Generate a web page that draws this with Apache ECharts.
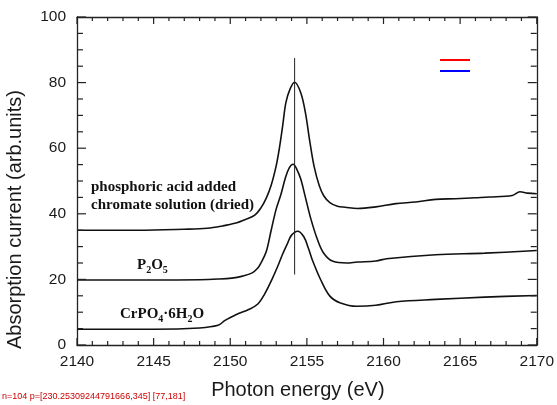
<!DOCTYPE html>
<html>
<head>
<meta charset="utf-8">
<script src="https://cdn.jsdelivr.net/npm/echarts@6/dist/echarts.min.js"></script>
<style>html,body{margin:0;padding:0;background:#fff;}#c{width:557px;height:405px;}</style>
</head>
<body>
<div id="c"></div>
<script>
// Photon energy (eV) / absorption current (arb. units)
const energyAcid = [2140, 2144, 2147, 2148.5, 2149.5, 2150.3, 2151, 2151.6, 2152, 2152.35, 2152.67, 2153, 2153.2, 2153.42, 2153.63, 2153.9, 2154.2, 2154.6, 2154.9, 2155.2, 2155.46, 2155.8, 2156.1, 2156.5, 2157.0, 2157.5, 2158.3, 2159.5, 2160.8, 2162.1, 2163.4, 2164.7, 2166, 2166.9, 2168.4, 2168.9, 2169.4, 2170];
const absAcid    = [35.0, 35.0, 35.3, 35.6, 36.3, 37.1, 38.3, 39.6, 41.8, 44.8, 48.7, 54.7, 59.8, 66.8, 73.9, 78.0, 80.1, 76.9, 70.9, 61.8, 54.7, 48.7, 45.5, 43.4, 42.3, 42.0, 41.6, 42.1, 43.1, 43.6, 44.4, 44.6, 44.9, 45.1, 45.6, 46.7, 46.3, 46.1];

const energyP2O5 = [2140, 2145, 2148, 2149.2, 2150.1, 2150.8, 2151.4, 2151.8, 2152.0, 2152.35, 2152.67, 2153.0, 2153.3, 2153.6, 2153.85, 2154.1, 2154.35, 2154.6, 2154.9, 2155.25, 2155.7, 2156.1, 2156.7, 2157.6, 2158.3, 2159.5, 2160.2, 2163.4, 2166.6, 2170];
const absP2O5    = [19.8, 19.8, 19.9, 20.1, 20.4, 21.0, 21.9, 23.5, 25.0, 28.5, 35.0, 41.5, 45.8, 51.0, 54.0, 55.1, 53.5, 50.6, 45.1, 38.6, 32.0, 28.0, 25.5, 25.0, 25.3, 25.6, 26.3, 27.5, 28.0, 28.8];

const energyCrPO4 = [2140, 2145, 2148, 2149.2, 2149.66, 2150.1, 2150.5, 2151.2, 2151.8, 2152.24, 2152.67, 2153.1, 2153.4, 2153.74, 2154.0, 2154.4, 2154.8, 2155.1, 2155.35, 2155.9, 2156.5, 2157.15, 2158.26, 2159.5, 2160.84, 2163.4, 2166.6, 2170];
const absCrPO4    = [4.8, 4.8, 5.2, 6.0, 7.5, 8.6, 9.5, 10.8, 12.5, 15.5, 19.5, 24.0, 27.5, 31.0, 33.5, 34.7, 33.0, 29.5, 26.0, 19.9, 14.9, 12.9, 11.8, 12.1, 13.2, 13.9, 14.6, 15.1];

const markerEnergy = [2154.2, 2154.2];
const markerAbs    = [21.5, 87.5];

const xTicks = [2140, 2145, 2150, 2155, 2160, 2165, 2170];
const yTicks = [0, 20, 40, 60, 80, 100];
const xMinorStep = 1;
const yMinorStep = 5;

function pairs(xs, ys) { return xs.map((x, i) => [x, ys[i]]); }

const xMin = xTicks[0], xMax = xTicks[xTicks.length - 1];
const yMin = yTicks[0], yMax = yTicks[yTicks.length - 1];

const chart = echarts.init(document.getElementById('c'));
const lineCol = '#111';
function mkAxis(pos, isX, showLabel) {
  const t = isX ? xTicks : yTicks;
  const a = {
    type: 'value', position: pos, min: t[0], max: t[t.length - 1], interval: t[1] - t[0],
    axisLine: { show: true, onZero: false, lineStyle: { color: '#222', width: 1.3 } },
    axisTick: { show: false },
    minorTick: { show: false },
    splitLine: { show: false },
    minorSplitLine: { show: false },
    axisLabel: showLabel ? { show: true, color: '#1a1a1a', fontFamily: 'Liberation Sans', fontSize: 15.5,
      margin: isX ? 9 : 11, formatter: v => String(v) } : { show: false }
  };
  if (isX && showLabel) {
    a.name = 'Photon energy (eV)';
    a.nameLocation = 'middle';
    a.nameGap = 35;
    a.nameTextStyle = { color: '#1a1a1a', fontFamily: 'Liberation Sans', fontSize: 20, padding: [0, 18, 0, 0] };
  }
  return a;
}
function serie(xs, ys, w) {
  return { type: 'line', data: pairs(xs, ys), showSymbol: false, symbol: 'none', smooth: 0.35,
    lineStyle: { color: lineCol, width: w }, silent: true };
}
const subFont = { fontFamily: 'Liberation Serif', fontWeight: 'bold', fontSize: 10, lineHeight: 10, verticalAlign: 'bottom', fill: '#111' };
const mainFont = { fontFamily: 'Liberation Serif', fontWeight: 'bold', fontSize: 15, lineHeight: 19, fill: '#111' };
const textGraphics = [
  { type: 'text', left: 5, top: 90, rotation: Math.PI / 2,
    style: { text: 'Absorption current (arb.units)', fill: '#1a1a1a', font: '20px "Liberation Sans"' } },
  { type: 'text', x: 91, y: 178, style: { text: 'phosphoric acid added\nchromate solution (dried)', fill: '#111', font: 'bold 15px "Liberation Serif"', lineHeight: 18 } },
  { type: 'text', x: 137, y: 256, style: { text: '{m|P}{s|2}{m|O}{s|5}', rich: { m: mainFont, s: subFont } } },
  { type: 'text', x: 120, y: 305, style: { text: '{m|CrPO}{s|4}{m|·6H}{s|2}{m|O}', rich: { m: mainFont, s: subFont } } }
];
chart.setOption({
  animation: false,
  backgroundColor: '#fff',
  grid: { left: 77, right: 14, top: 17, bottom: 57 },
  xAxis: [mkAxis('bottom', true, true), mkAxis('top', true, false)],
  yAxis: [mkAxis('left', false, true), mkAxis('right', false, false)],
  series: [
    serie(energyAcid, absAcid, 1.6),
    serie(energyP2O5, absP2O5, 1.6),
    serie(energyCrPO4, absCrPO4, 1.6),
    { type: 'line', data: pairs(markerEnergy, markerAbs), showSymbol: false, symbol: 'none',
      lineStyle: { color: '#222', width: 1 }, silent: true }
  ]
});

// inward frame ticks as thin filled rectangles, positioned through the chart's own axis scales
let dbg = '';
function px(x, y) {
  let X = chart.convertToPixel({ xAxisIndex: 0 }, x);
  let Y = chart.convertToPixel({ yAxisIndex: 0 }, y);
  return [X, Y];
}
const tickEls = [];
const MAJ = 7, MIN = 4;
function bar(x, y, w, h) {
  tickEls.push({ type: 'rect', silent: true, z: 100, zlevel: 0,
    shape: { x: x, y: y, width: w, height: h }, style: { fill: '#222' } });
}
try {
  for (let v = xMin; v <= xMax + 1e-9; v += xMinorStep) {
    const major = xTicks.indexOf(v) >= 0;
    const L = major ? MAJ : MIN;
    const b = px(v, yMin), t = px(v, yMax);
    bar(b[0] - 0.6, b[1] - L, 1.2, L);
    bar(t[0] - 0.6, t[1], 1.2, L);
  }
  for (let v = yMin; v <= yMax + 1e-9; v += yMinorStep) {
    const major = yTicks.indexOf(v) >= 0;
    const L = major ? MAJ + 2 : MIN + 2;
    const l = px(xMin, v), r = px(xMax, v);
    bar(l[0], l[1] - 0.6, L, 1.2);
    bar(r[0] - L, r[1] - 0.6, L, 1.2);
  }
  dbg = 'n=' + tickEls.length + ' p=' + JSON.stringify(px(2150, 0)) + ' ' + JSON.stringify(px(2140, 50));
} catch (e) { dbg = 'ERR ' + e.message; }
const debugEls = [
  { type: 'text', x: 2, y: 392, z: 100, style: { text: dbg, fill: '#c00', font: '9px "Liberation Sans"' } },
  { type: 'line', z: 100, shape: { x1: 440, y1: 60, x2: 470, y2: 60 }, style: { stroke: '#f00', lineWidth: 2 } },
  { type: 'rect', z: 100, shape: { x: 440, y: 70, width: 30, height: 2 }, style: { fill: '#00f' } }
];
chart.setOption({ graphic: { elements: textGraphics.concat(tickEls, debugEls) } });
</script>
</body>
</html>
